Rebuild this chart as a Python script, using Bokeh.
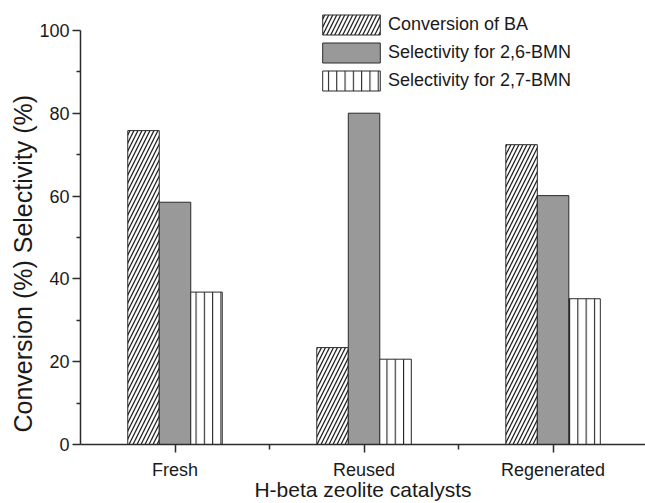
from bokeh.plotting import figure
from bokeh.models import ColumnDataSource, FixedTicker, Range1d, Legend, LegendItem, Title
from bokeh.embed import file_html
from bokeh.resources import INLINE

categories = ["Fresh", "Reused", "Regenerated"]
conversion_ba = [75.8, 23.4, 72.4]
selectivity_26 = [58.5, 80.0, 60.1]
selectivity_27 = [36.8, 20.6, 35.2]
series_names = ["Conversion of BA", "Selectivity for 2,6-BMN", "Selectivity for 2,7-BMN"]
y_ticks = [0, 20, 40, 60, 80, 100]
y_minor = [10, 30, 50, 70, 90]
x_title = "H-beta zeolite catalysts"
y_title = "Conversion (%) Selectivity (%)"

FONT = "Liberation Sans"
TXT = "#1a1a1a"
LINE = "#2b2b2b"

xs = [i + 1 for i in range(len(categories))]
bw = 1.0 / 6.0

p = figure(width=645, height=503, output_backend="svg", toolbar_location=None,
           x_range=Range1d(0.5, 3.489), y_range=Range1d(0, 104.8),
           min_border_left=80, min_border_right=0, min_border_top=10, min_border_bottom=59)
p.outline_line_color = None
p.xgrid.visible = False
p.ygrid.visible = False
p.background_fill_color = "white"
p.border_fill_color = "white"

src = ColumnDataSource(dict(
    x0=[x - bw for x in xs], x1=xs, x2=[x + bw for x in xs],
    conv=conversion_ba, s26=selectivity_26, s27=selectivity_27))

r1 = p.vbar(x="x0", top="conv", width=bw, source=src, fill_color="white",
            line_color=LINE, line_width=1, hatch_pattern="/", hatch_scale=8,
            hatch_color="#222222", hatch_weight=1.3)
r2 = p.vbar(x="x1", top="s26", width=bw, source=src, fill_color="#999999",
            line_color=LINE, line_width=1)
r3 = p.vbar(x="x2", top="s27", width=bw, source=src, fill_color="white",
            line_color=LINE, line_width=1, hatch_pattern="|", hatch_scale=8.3,
            hatch_color="#222222", hatch_weight=1.1)

legend = Legend(items=[LegendItem(label=series_names[0], renderers=[r1]),
                       LegendItem(label=series_names[1], renderers=[r2]),
                       LegendItem(label=series_names[2], renderers=[r3])],
                location=(235, 351))
legend.border_line_color = None
legend.background_fill_alpha = 0
legend.padding = 0
legend.margin = 0
legend.spacing = 3
legend.glyph_width = 72
legend.glyph_height = 25
legend.label_height = 25
legend.label_standoff = 1
legend.label_text_font = FONT
legend.label_text_font_size = "18px"
legend.label_text_color = TXT
p.add_layout(legend, "center")

# y axis
ya = p.yaxis[0]
ya.ticker = FixedTicker(ticks=y_ticks, minor_ticks=y_minor)
ya.bounds = (0, 100)
ya.major_label_text_font = FONT
ya.major_label_text_font_size = "18px"
ya.major_label_text_color = TXT
ya.major_label_standoff = 3
ya.axis_line_color = LINE
ya.axis_line_width = 1.5
ya.major_tick_line_color = LINE
ya.major_tick_line_width = 1.5
ya.major_tick_out = 8
ya.major_tick_in = 0
ya.minor_tick_line_color = LINE
ya.minor_tick_line_width = 1.5
ya.minor_tick_out = 4
ya.minor_tick_in = 0

# y title, placed from the bottom of the frame
yt = Title(text=y_title, align="left", offset=12, standoff=0,
           text_font=FONT, text_font_size="25px", text_font_style="normal",
           text_color=TXT)
p.add_layout(yt, "left")

# x axis
xa = p.xaxis[0]
xa.ticker = FixedTicker(ticks=xs, minor_ticks=[1.5, 2.5])
xa.major_label_overrides = {x: c for x, c in zip(xs, categories)}
xa.axis_label = x_title
xa.axis_label_text_font = FONT
xa.axis_label_text_font_size = "21px"
xa.axis_label_text_font_style = "normal"
xa.axis_label_text_color = TXT
xa.axis_label_standoff = -5
xa.major_label_text_font = FONT
xa.major_label_text_font_size = "18px"
xa.major_label_text_color = TXT
xa.major_label_standoff = 7
xa.axis_line_color = LINE
xa.axis_line_width = 1.5
xa.major_tick_line_color = LINE
xa.major_tick_line_width = 1.5
xa.major_tick_out = 8
xa.major_tick_in = 0
xa.minor_tick_line_color = LINE
xa.minor_tick_line_width = 1.5
xa.minor_tick_out = 5
xa.minor_tick_in = 0

open("out.html", "w").write(file_html(p, INLINE))
